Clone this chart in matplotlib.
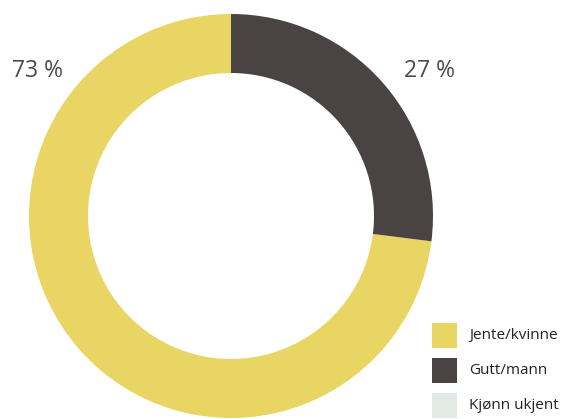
import matplotlib
matplotlib.use("Agg")
import matplotlib.pyplot as plt
from matplotlib.patches import Rectangle

categories = ["Jente/kvinne", "Gutt/mann", "Kjønn ukjent"]
values = [73, 27, 0]
labels_txt = ["73 %", "27 %"]
colors = ["#E8D563", "#4A4343", "#E3EAE5"]

W, H = 566, 419
cx, cy = 231, 216
R = 202
inner = 143

fig = plt.figure(figsize=(W / 100, H / 100), dpi=100)
ax = fig.add_axes([0, 0, 1, 1])
ax.pie(values, colors=colors, startangle=90, counterclock=True, radius=R,
       wedgeprops=dict(width=R - inner, linewidth=0), center=(0, 0))
ax.set_xlim(-cx, W - cx)
ax.set_ylim(cy - H, cy)
ax.set_aspect("equal")
ax.axis("off")

font = "Open Sans"
# percentage labels
ax.text(38 - cx, cy - 71, labels_txt[0], ha="center", va="center",
        fontsize=16.5, color="#4a4a4a", family=font)
ax.text(430 - cx, cy - 71, labels_txt[1], ha="center", va="center",
        fontsize=16.5, color="#4a4a4a", family=font)

# legend
sq = 25
ys = [335.5, 370.5, 405.5]
for cat, col, yc in zip(categories, colors, ys):
    ax.add_patch(Rectangle((432 - cx, cy - yc - sq / 2), sq, sq, facecolor=col,
                           edgecolor="none", clip_on=False))
    ax.text(469 - cx, cy - yc, cat, ha="left", va="center", fontsize=11,
            color="#222222", family=font)

fig.savefig("out.png", dpi=100)
